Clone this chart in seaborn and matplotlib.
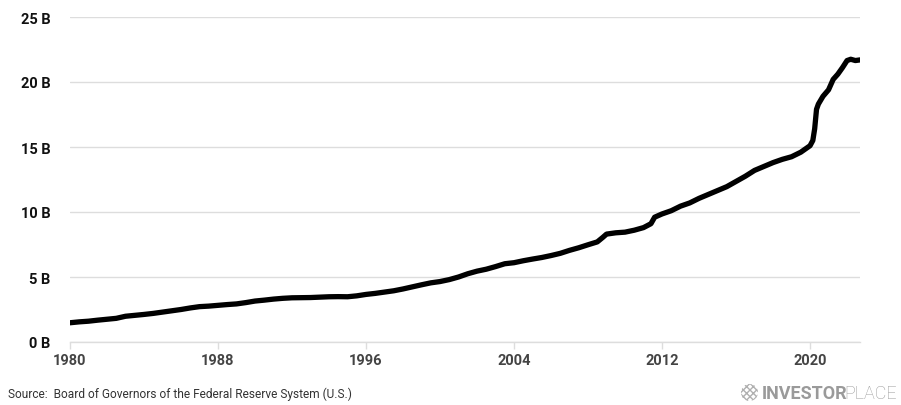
import matplotlib
matplotlib.use("Agg")
import matplotlib.pyplot as plt
import seaborn as sns
import pandas as pd
from matplotlib.patches import Circle

# Data: M2 money supply (label units as shown: "B")
years = [1980.0, 1980.5, 1981.0, 1981.5, 1982.0, 1982.5, 1983.0, 1983.5, 1984.0, 1984.5,
         1985.0, 1985.5, 1986.0, 1986.5, 1987.0, 1987.5, 1988.0, 1988.5, 1989.0, 1989.5,
         1990.0, 1990.5, 1991.0, 1991.5, 1992.0, 1992.5, 1993.0, 1993.5, 1994.0, 1994.5,
         1995.0, 1995.5, 1996.0, 1996.5, 1997.0, 1997.5, 1998.0, 1998.5, 1999.0, 1999.5,
         2000.0, 2000.5, 2001.0, 2001.5, 2002.0, 2002.5, 2003.0, 2003.5, 2004.0, 2004.5,
         2005.0, 2005.5, 2006.0, 2006.5, 2007.0, 2007.5, 2008.0, 2008.5, 2008.8, 2009.0,
         2009.5, 2010.0, 2010.5, 2011.0, 2011.4, 2011.6, 2012.0, 2012.5, 2013.0, 2013.5,
         2014.0, 2014.5, 2015.0, 2015.5, 2016.0, 2016.5, 2017.0, 2017.5, 2018.0, 2018.5,
         2019.0, 2019.5, 2020.0, 2020.15, 2020.25, 2020.35, 2020.45, 2020.7, 2021.0, 2021.25,
         2021.5, 2021.75, 2022.0, 2022.2, 2022.45, 2022.7]
values = [1.48, 1.55, 1.60, 1.68, 1.75, 1.82, 1.98, 2.05, 2.12, 2.20,
          2.30, 2.40, 2.50, 2.62, 2.72, 2.76, 2.82, 2.88, 2.93, 3.03,
          3.15, 3.22, 3.30, 3.36, 3.40, 3.41, 3.42, 3.45, 3.48, 3.49,
          3.48, 3.55, 3.66, 3.74, 3.84, 3.94, 4.08, 4.24, 4.40, 4.55,
          4.65, 4.80, 5.00, 5.25, 5.45, 5.60, 5.80, 6.02, 6.10, 6.25,
          6.38, 6.50, 6.65, 6.82, 7.05, 7.25, 7.48, 7.70, 8.05, 8.30,
          8.40, 8.45, 8.60, 8.80, 9.10, 9.60, 9.85, 10.10, 10.45, 10.70,
          11.05, 11.35, 11.65, 11.95, 12.35, 12.75, 13.20, 13.50, 13.80, 14.05,
          14.25, 14.60, 15.10, 15.50, 16.40, 17.90, 18.30, 18.90, 19.40, 20.20,
          20.60, 21.10, 21.65, 21.75, 21.65, 21.70]

y_ticks = [0, 5, 10, 15, 20, 25]
y_tick_labels = ["0 B", "5 B", "10 B", "15 B", "20 B", "25 B"]
x_ticks = [1980, 1988, 1996, 2004, 2012, 2020]
x_tick_labels = ["1980", "1988", "1996", "2004", "2012", "2020"]
source_text = "Source:  Board of Governors of the Federal Reserve System (U.S.)"

df = pd.DataFrame({"year": years, "value": values})

sns.set_theme(style="white")
plt.rcParams["font.family"] = ["Roboto", "DejaVu Sans"]

fig = plt.figure(figsize=(9.01, 4.06), dpi=100)
ax = fig.add_axes([70 / 901, 1 - 343 / 406, 790 / 901, 325 / 406])

sns.lineplot(data=df, x="year", y="value", ax=ax, color="black", linewidth=3.8,
             solid_capstyle="round", solid_joinstyle="round", zorder=3)

ax.set_xlim(1980, 2022.7)
ax.set_ylim(0, 25)
ax.set_yticks(y_ticks)
ax.set_yticklabels(y_tick_labels, fontsize=10.5, fontweight="bold", color="#111111")
ax.set_xticks(x_ticks)
ax.set_xticklabels(x_tick_labels, fontsize=10.5, fontweight="bold", color="#444444")
ax.set_xlabel("")
ax.set_ylabel("")

for s in ["top", "right", "left"]:
    ax.spines[s].set_visible(False)
ax.spines["bottom"].set_color("#dddddd")
ax.spines["bottom"].set_linewidth(1.0)

ax.grid(axis="y", color="#dddddd", linewidth=1.0)
ax.grid(axis="x", visible=False)
ax.set_axisbelow(True)

ax.tick_params(axis="y", length=0, pad=14)
ax.tick_params(axis="x", length=5, color="#dddddd", width=1.0, pad=3, direction="out")
ax.tick_params(axis="x", bottom=True)

fig.text(8 / 901, 1 - 398 / 406, source_text, fontsize=8.6, color="#333333",
         ha="left", va="baseline")

# logo
logo_ax = fig.add_axes([740 / 901, 1 - 403 / 406, 19 / 901, 19 / 406])
logo_ax.set_xlim(-1, 1)
logo_ax.set_ylim(-1, 1)
logo_ax.set_aspect("equal")
logo_ax.axis("off")
logo_ax.add_patch(Circle((0, 0), 0.9, facecolor="none", edgecolor="#b0b0b0",
                         hatch="xxxxx", linewidth=0))
t1 = fig.text(762 / 901, 1 - 399 / 406, "INVESTOR", fontsize=13, fontweight="semibold",
              color="#9a9a9a", ha="left", va="baseline")
fig.canvas.draw()
bb = t1.get_window_extent(renderer=fig.canvas.get_renderer())
fig.text((bb.x1 - 3) / 901, 1 - 399 / 406, "PLACE", fontsize=13, fontweight="light",
         color="#9a9a9a", ha="left", va="baseline")

fig.savefig("out.png", dpi=100)
